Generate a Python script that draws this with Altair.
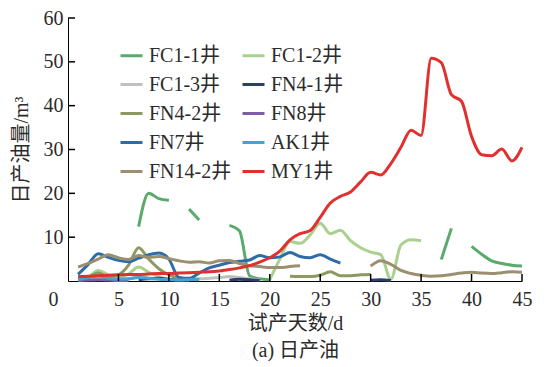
import altair as alt
import pandas as pd

N = None
days = list(range(1, 46))

series_names = ["FC1-1井", "FC1-2井", "FC1-3井", "FN4-1井", "FN4-2井",
                "FN8井", "FN7井", "AK1井", "FN14-2井", "MY1井"]
colors = ["#5aaa6e", "#a9d08e", "#c0c0c0", "#2c3e6b", "#8c9a62",
          "#7b5ea7", "#2e6ca5", "#45a3d0", "#9a8f6f", "#e0302f"]

fc1_1 = [0.3, 0.6, 1.6, 0.9, 0.5, N, 12.4, 20.0, 18.8, 18.4,
         N, 16.4, 13.9, N, N, 12.7, 11.4, 1.2, 0.5, 0.3,
         N, N, N, N, N, N, N, N, N, N,
         N, N, N, N, N, N, 4.9, 12.0, N, 7.9,
         6.1, 4.6, 4.0, 3.6, 3.4]
fc1_2 = [0.2, 0.8, 2.4, 1.4, 0.8, 1.6, 3.2, 2.0, 1.0, 0.4,
         N, N, N, N, N, N, N, N, N, 0.3,
         5.0, 9.0, 8.6, 10.5, 13.2, 10.8, 11.6, 9.2, 7.6, 6.6,
         6.0, 0.4, 8.2, 9.4, 9.2, N, N, N, N, N,
         N, N, N, N, N]
fc1_3 = [0.4, 0.6, 0.8, 0.5, 0.3, 0.5, 0.9, 0.7, 0.5, 0.4,
         0.3, 0.4, 0.5, 0.6, 0.8, 1.0, 0.8, 0.5, 0.3, N,
         N, N, N, N, N, N, N, N, N, N,
         N, N, N, N, N, N, N, N, N, N,
         N, N, N, N, N]
fn4_1 = [N, N, N, N, N, N, 0.3, 0.5, 0.6, 0.4,
         0.2, 0.1, N, N, N, 0.2, 0.4, 0.3, 0.1, N,
         N, N, N, N, N, N, N, N, N, 0.2,
         0.3, 0.1, N, N, N, N, N, N, N, N,
         N, N, N, N, N]
fn4_2 = [0.5, 0.9, 1.8, 1.0, 1.4, 3.6, 7.6, 5.0, 2.8, 1.4,
         0.7, 0.4, 0.3, N, N, N, N, N, N, N,
         N, 1.1, 1.0, 1.0, 1.3, 2.1, 1.2, 1.2, 1.4, 1.5,
         N, N, N, N, N, N, N, N, N, N,
         N, N, N, N, N]
fn8 = [0.1, 0.2, 0.3, 0.2, 0.1, 0.1, N, N, N, N,
       N, N, N, N, N, N, N, N, N, N,
       N, N, N, N, N, N, N, N, N, N,
       N, N, N, N, N, N, N, N, N, N,
       N, N, N, N, N]
fn7 = [1.5, 3.8, 6.2, 5.4, 4.7, 4.4, 5.2, 6.0, 6.4, 5.0,
       0.8, 0.6, 1.8, 3.0, 3.6, 4.2, 4.5, 4.8, 5.8, 5.3,
       5.5, 6.5, 5.6, 5.3, 6.0, 5.0, 4.1, N, N, N,
       N, N, N, N, N, N, N, N, N, N,
       N, N, N, N, N]
ak1 = [0.3, 0.8, 1.2, 0.6, 0.4, 0.5, 0.8, 0.6, 0.4, 0.3,
       0.2, 0.3, 0.4, N, N, N, N, N, N, N,
       N, N, N, N, N, N, N, N, N, N,
       N, N, N, N, N, N, N, N, N, N,
       N, N, N, N, N]
fn14_2 = [3.2, 4.0, 5.0, 6.0, 5.3, 4.9, 5.8, 5.4, 5.6, 5.1,
          4.6, 4.3, 4.4, 4.1, 4.6, 4.7, 4.0, 3.5, 3.3, 3.1,
          3.1, 3.3, 3.5, N, N, N, N, N, N, 3.4,
          4.6, 3.8, 2.4, 1.7, 1.3, 1.1, 1.2, 1.5, 1.8, 2.0,
          1.8, 1.7, 1.9, 2.1, 2.0]
my1 = [1.0, 1.1, 1.2, 1.3, 1.4, 1.5, 1.5, 1.6, 1.7, 1.7,
       1.8, 1.9, 2.0, 2.1, 2.3, 2.6, 3.0, 3.5, 4.3, 5.3,
       6.8, 9.4, 10.8, 11.5, 14.5, 17.8, 19.3, 20.3, 22.6, 24.8,
       24.2, 26.8, 30.5, 34.4, 33.2, 50.8, 49.8, 42.5, 41.0, 33.0,
       28.8, 28.6, 30.1, 27.4, 30.5]

series_values = [fc1_1, fc1_2, fc1_3, fn4_1, fn4_2, fn8, fn7, ak1, fn14_2, my1]
color_of = dict(zip(series_names, colors))

# legend is filled column by column: list left column first, then right column
legend_order = series_names[0::2] + series_names[1::2]
legend_colors = [color_of[n] for n in legend_order]

x_ticks = [0, 5, 10, 15, 20, 25, 30, 35, 40, 45]
y_ticks = [10, 20, 30, 40, 50, 60]

rows = []
for name, vals in zip(series_names, series_values):
    seg = 0
    for d, v in zip(days, vals):
        if v is None:
            seg += 1
            continue
        rows.append({"well": name, "seg": f"{name}-{seg}", "day": d, "oil": v})
df = pd.DataFrame(rows)

FONT = "Liberation Serif, Noto Sans CJK SC"
TXT = "#2b2b2b"
W, H = 454, 263

xscale = alt.Scale(domain=[0, 45], nice=False)
yscale = alt.Scale(domain=[0, 60], nice=False)

x_axis = alt.Axis(values=x_ticks, title=["试产天数/d", "(a) 日产油"],
                  tickOpacity=0, labelPadding=3, labelFlush=False,
                  labelOverlap=False, titlePadding=4, titleLineHeight=27,
                  labelFont=FONT, labelFontSize=20, labelColor=TXT,
                  titleFont=FONT, titleFontSize=20, titleColor=TXT,
                  titleFontWeight="normal", domainColor="black", grid=False,
                  labelAlign={"expr": "datum.value == 0 ? 'right' : 'center'"},
                  labelOffset={"expr": "datum.value == 0 ? -10 : 0"})
y_axis = alt.Axis(values=y_ticks, title="日产油量/m³", tickOpacity=0,
                  labelPadding=0, labelFlush=False, titlePadding=12,
                  labelFont=FONT, labelFontSize=20, labelColor=TXT,
                  titleFont=FONT, titleFontSize=20, titleColor=TXT,
                  titleFontWeight="normal", domainColor="black", grid=False)

lines = alt.Chart(df).mark_line(strokeWidth=3, interpolate="monotone").encode(
    x=alt.X("day:Q", scale=xscale, axis=x_axis),
    y=alt.Y("oil:Q", scale=yscale, axis=y_axis),
    color=alt.Color("well:N", scale=alt.Scale(domain=legend_order, range=legend_colors),
                    legend=alt.Legend(title=None, orient="none", legendX=51, legendY=25,
                                      columns=2, symbolType="stroke", symbolSize=484,
                                      symbolStrokeWidth=3, labelFont=FONT, labelFontSize=20,
                                      labelColor=TXT, labelOffset=5, columnPadding=4,
                                      rowPadding=6, padding=0, labelLimit=300)),
    detail="seg:N",
)

# inward tick marks, drawn at the tick values through the shared scales
ytick = alt.Chart(pd.DataFrame({"oil": y_ticks})).mark_rule(color="black", strokeWidth=1.5).encode(
    y=alt.Y("oil:Q", scale=yscale), x=alt.value(0), x2=alt.value(7))
xtick = alt.Chart(pd.DataFrame({"day": x_ticks[1:]})).mark_rule(color="black", strokeWidth=1.5).encode(
    x=alt.X("day:Q", scale=xscale), y=alt.value(H), y2=alt.value(H - 7))

chart = alt.layer(lines, ytick, xtick).properties(
    width=W, height=H,
    autosize=alt.AutoSizeParams(type="none"),
    padding={"left": 60, "top": 10, "right": 14, "bottom": 80},
).configure(font=FONT).configure_view(strokeWidth=0).configure_axis(
    labelFont=FONT, titleFont=FONT,
).configure_text(font=FONT)

chart.save("out.html", embed_options={"renderer": "svg", "actions": False})
